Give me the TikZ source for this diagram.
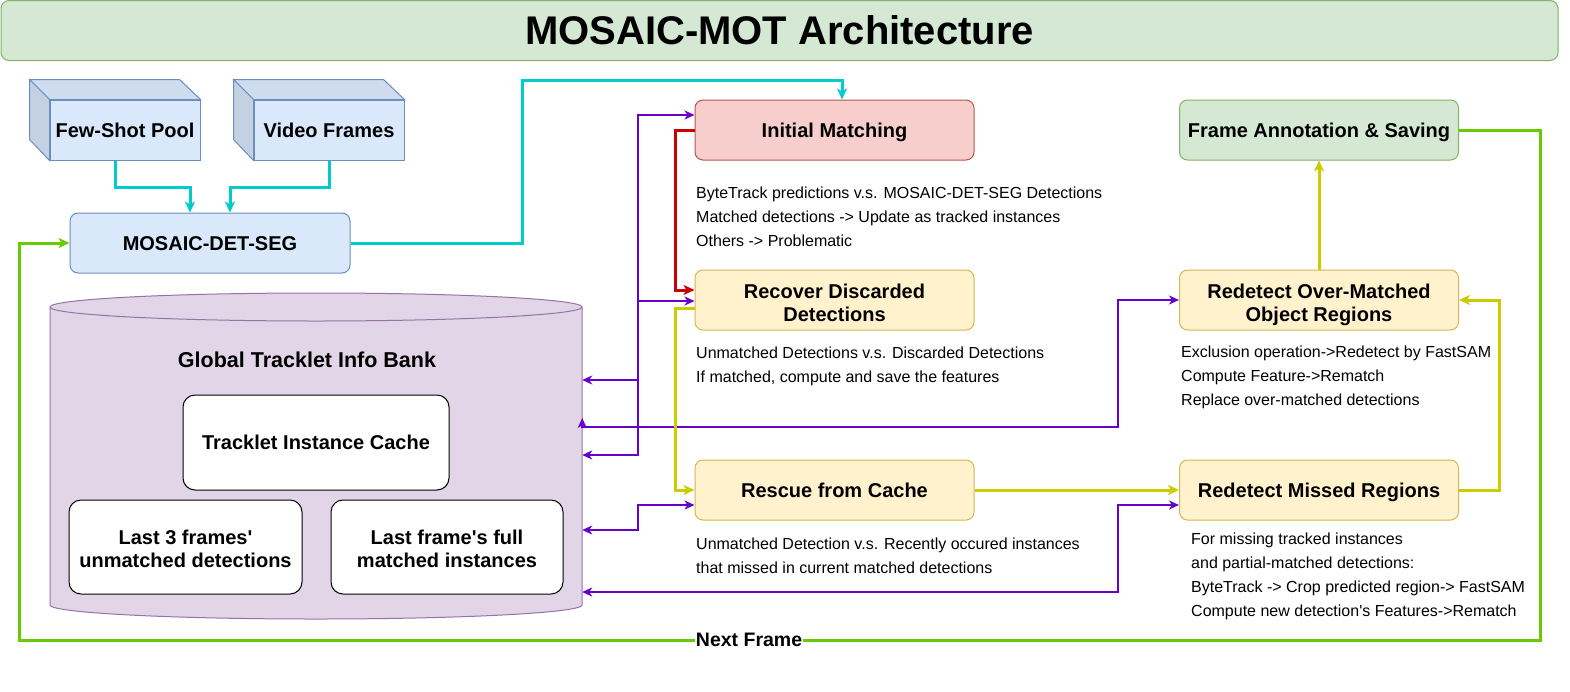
\documentclass[tikz,border=0pt]{standalone}
\usepackage{fontspec}
\setmainfont{Liberation Sans}
\usetikzlibrary{arrows.meta}
\definecolor{cyanl}{HTML}{00CCCC}
\definecolor{greenl}{HTML}{66CC00}
\definecolor{redl}{HTML}{CC0000}
\definecolor{yell}{HTML}{CCCC00}
\definecolor{purl}{HTML}{6600CC}
\definecolor{bluef}{HTML}{DAE8FC}
\definecolor{blued}{HTML}{6C8EBF}
\definecolor{redf}{HTML}{F8CECC}
\definecolor{redd}{HTML}{B85450}
\definecolor{yelf}{HTML}{FFF2CC}
\definecolor{yeld}{HTML}{D6B656}
\definecolor{grnf}{HTML}{D5E8D4}
\definecolor{grnd}{HTML}{82B366}
\definecolor{cylf}{HTML}{E1D5E7}
\definecolor{cyld}{HTML}{9673A6}
\definecolor{cubetop}{HTML}{CFDCF0}
\definecolor{cubeside}{HTML}{C4D1E3}
\tikzset{
  oneline/.style={text height=14.3pt, text depth=0pt},
  twoline/.style={text height=44pt, text depth=1.6pt},
  box/.style={draw, line width=1pt, rounded corners=8pt, minimum width=279pt, minimum height=60pt,
    align=center, inner sep=2pt, font=\fontsize{20}{23}\selectfont\bfseries},
  ybox/.style={box, fill=yelf, draw=yeld},
  bbox/.style={draw=blued, fill=bluef, line width=1pt, minimum width=150pt, minimum height=60pt,
    inner sep=2pt, oneline, font=\fontsize{20}{23}\selectfont\bfseries},
  wbox/.style={draw=black, fill=white, line width=1pt, rounded corners=12pt, align=center,
    inner sep=2pt, font=\fontsize{20}{23}\selectfont\bfseries},
  desc/.style={anchor=west, align=left, inner sep=0pt, font=\fontsize{16}{24}\selectfont},
  bigtip/.style={-{Stealth[length=11pt,width=10pt,inset=3pt]}},
  thickline/.style={line width=3pt, bigtip},
  cyanarrow/.style={thickline, draw=cyanl},
  redarrow/.style={thickline, draw=redl},
  yarrow/.style={thickline, draw=yell},
  garrow/.style={thickline, draw=greenl},
  parrow/.style={line width=2pt, draw=purl, {Stealth[length=10pt,width=9pt,inset=3pt]}-{Stealth[length=10pt,width=9pt,inset=3pt]}},
  nflbl/.style={fill=white, inner sep=1pt, font=\fontsize{19.5}{22}\selectfont\bfseries},
}
\begin{document}
\begin{tikzpicture}[x=1pt,y=-1pt]
\useasboundingbox[fill=white] (0,0) rectangle (1570,691);

% title
\node[draw=grnd, fill=grnf, line width=1pt, rounded corners=8pt, minimum width=1557pt, minimum height=60pt,
  font=\fontsize{40}{44}\selectfont\bfseries] (title) at (779.5,30.5) {MOSAIC-MOT Architecture};

% cubes
\node[bbox] (fs) at (125,130) {Few-Shot Pool};
\draw[draw=blued, fill=cubetop, line width=1pt] (fs.north west) -- ++(-20,-20) -- ++(150,0) -- (fs.north east) -- cycle;
\draw[draw=blued, fill=cubeside, line width=1pt] (fs.north west) -- ++(-20,-20) -- ++(0,60) -- (fs.south west) -- cycle;
\node[bbox] (vf) at (329,130) {Video Frames};
\draw[draw=blued, fill=cubetop, line width=1pt] (vf.north west) -- ++(-20,-20) -- ++(150,0) -- (vf.north east) -- cycle;
\draw[draw=blued, fill=cubeside, line width=1pt] (vf.north west) -- ++(-20,-20) -- ++(0,60) -- (vf.south west) -- cycle;

\node[draw=blued, fill=bluef, line width=1pt, rounded corners=8pt, minimum width=280pt, minimum height=60pt,
  oneline, font=\fontsize{20}{23}\selectfont\bfseries] (mds) at (210,243) {MOSAIC-DET-SEG};

% cylinder
\path[draw=cyld, fill=cylf, line width=1pt] (50,307) -- (50,605)
  arc[start angle=180, end angle=0, x radius=266, y radius=14] -- (582,307)
  arc[start angle=0, end angle=-180, x radius=266, y radius=14] -- cycle;
\draw[draw=cyld, line width=1pt] (50,307) arc[start angle=180, end angle=0, x radius=266, y radius=14];
\node[minimum width=532pt, minimum height=327pt, inner sep=0pt] (bank) at (316,456.5) {};
\node[font=\fontsize{21.5}{25}\selectfont\bfseries] (gtib) at (307,360) {Global Tracklet Info Bank};
\node[wbox, oneline, minimum width=266pt, minimum height=95pt] (tic) at (316,442.5) {Tracklet Instance Cache};
\node[wbox, text height=42pt, text depth=1.6pt, minimum width=233pt, minimum height=94pt] (l3) at (185.5,547) {Last 3 frames\textquotesingle\\unmatched detections};
\node[wbox, text height=42pt, text depth=1.6pt, minimum width=232pt, minimum height=94pt] (lf) at (447,547) {Last frame\textquotesingle s full\\matched instances};

% process boxes
\node[box, oneline, fill=redf, draw=redd] (im) at (834.5,130) {Initial Matching};
\node[ybox, twoline] (rd) at (834.5,300) {Recover Discarded\\Detections};
\node[ybox, oneline] (rc) at (834.5,490) {Rescue from Cache};
\node[box, oneline, fill=grnf, draw=grnd] (fa) at (1319,130) {Frame Annotation \& Saving};
\node[ybox, twoline] (om) at (1319,300) {Redetect Over-Matched\\Object Regions};
\node[ybox, oneline] (mr) at (1319,490) {Redetect Missed Regions};

% descriptions
\node[desc] (imd) at (696,217) {ByteTrack predictions v.s. MOSAIC-DET-SEG Detections\\Matched detections -> Update as tracked instances\\Others -> Problematic};
\node[desc] (rdd) at (696,366) {Unmatched Detections v.s. Discarded Detections\\If matched, compute and save the features};
\node[desc] (rcd) at (696,556) {Unmatched Detection v.s. Recently occured instances\\that missed in current matched detections};
\node[desc] (omd) at (1181,377) {Exclusion operation->Redetect by FastSAM\\Compute Feature->Rematch\\Replace over-matched detections};
\node[desc] (mrd) at (1191,576) {For missing tracked instances\\and partial-matched detections:\\ByteTrack -> Crop predicted region-> FastSAM\\Compute new detection\textquotesingle s Features->Rematch};

% cyan connectors
\draw[cyanarrow] (115,0 |- fs.south) |- (190,187) -- (190,0 |- mds.north);
\draw[cyanarrow] (329,0 |- vf.south) |- (230,187) -- (230,0 |- mds.north);
\draw[cyanarrow] (mds.east) -| (522,80) -| (842,0 |- im.north);

% red
\draw[redarrow] (im.west) -| (675,290) -- (rd.west |- 0,290);

% purple
\draw[parrow] (bank.east |- 0,380) -| (638,115) -- (im.west |- 0,115);
\draw[parrow] (bank.east |- 0,455) -| (638,301) -- (rd.west |- 0,301);
\draw[parrow] (bank.east |- 0,530) -| (638,505) -- (rc.west |- 0,505);
\draw[parrow] (bank.east |- 0,418) -- (bank.east |- 0,427) -| (1118,300) -- (om.west |- 0,300);
\draw[parrow] (bank.east |- 0,592) -| (1118,505) -- (mr.west |- 0,505);

% yellow
\draw[yarrow] (rd.west |- 0,308) -| (675,490) -- (rc.west |- 0,490);
\draw[yarrow] (rc.east |- 0,490) -- (mr.west |- 0,490);
\draw[yarrow] (mr.east |- 0,490) -| (1499,300) -- (om.east |- 0,300);
\draw[yarrow] (om.north) -- (fa.south);

% green loop
\draw[garrow] (fa.east |- 0,130) -| (1540,640) -- node[pos=0.52, nflbl] (nf) {Next Frame} (19,640) |- (mds.west |- 0,243);
\end{tikzpicture}
\end{document}
